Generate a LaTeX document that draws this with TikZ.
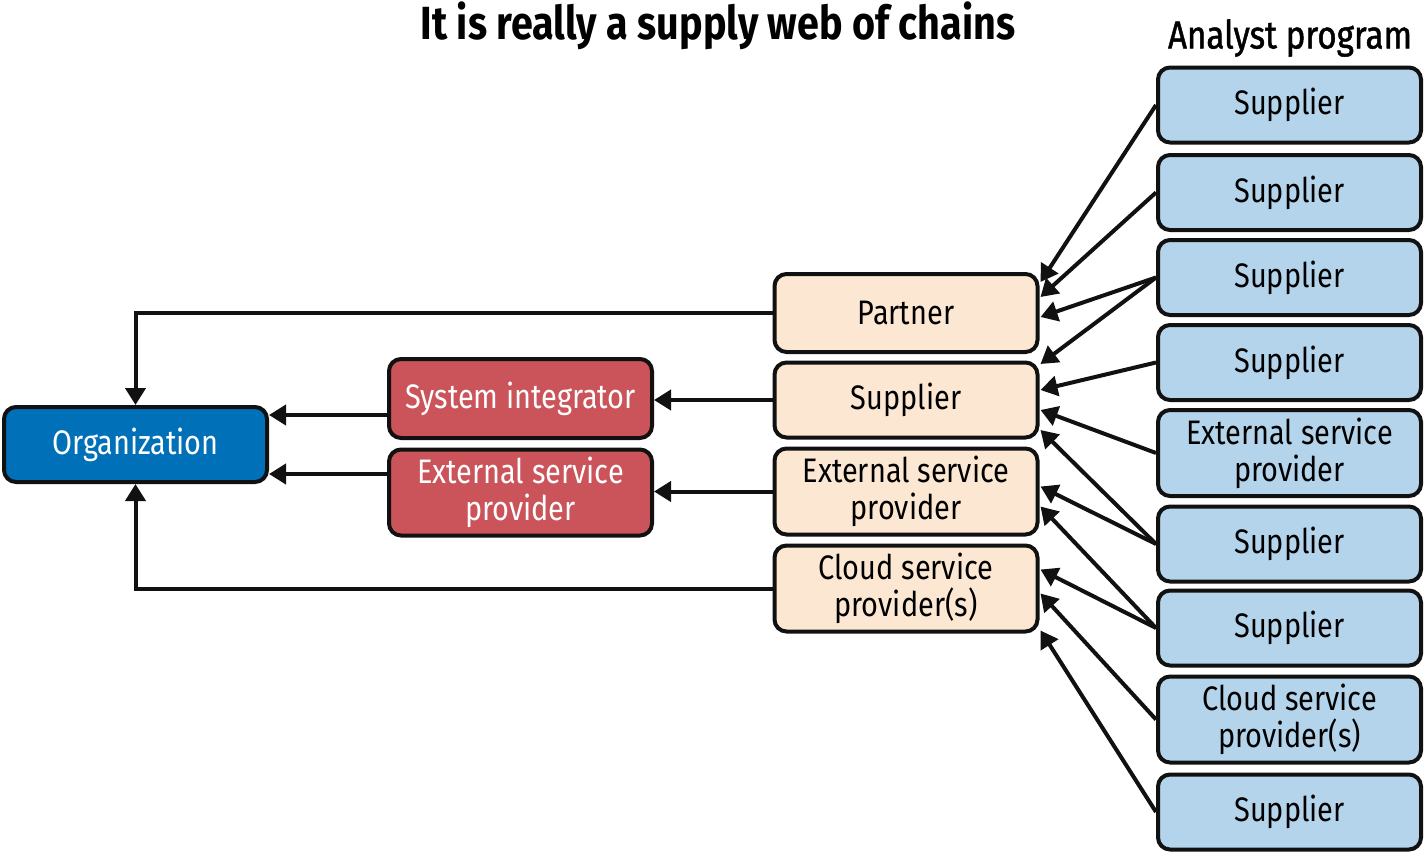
\documentclass[tikz,border=0pt]{standalone}
\usepackage{fontspec}
\setmainfont{Fira Sans}[FakeStretch=0.85]
\newfontfamily\medfont{Fira Sans}[FakeStretch=0.85,FakeBold=1.2]
\usetikzlibrary{arrows.meta,calc}
\definecolor{orgblue}{HTML}{0070B8}
\definecolor{redbox}{HTML}{CB535A}
\definecolor{beige}{HTML}{FCE8D2}
\definecolor{lightblue}{HTML}{B3D4EA}
\definecolor{ink}{HTML}{111111}
\begin{document}
\begin{tikzpicture}[x=1pt,y=-1pt,
  box/.style={draw=ink, line width=4pt, rounded corners=12pt, minimum width=263pt,
    align=center, inner sep=2pt, font=\fontsize{34}{37}\selectfont},
  onebox/.style={box, minimum height=75pt},
  twobox/.style={box, minimum height=86pt},
  rbox/.style={fill=lightblue},
  mbox/.style={fill=beige},
  sbox/.style={fill=redbox, text=white},
  obox/.style={fill=orgblue, text=white},
  arr/.style={draw=ink, line width=4pt, -{Triangle[length=17pt,width=20pt]}},
  ]
\useasboundingbox (0,0) rectangle (1425,854);

\node[font=\fontsize{46.5}{48}\selectfont\bfseries] (title) at (718,26) {It is really a supply web of chains};
\node[font=\fontsize{39}{41}\medfont] (analyst) at (1290,38) {Analyst program};

% right column
\node[onebox,rbox] (r1) at (1289.5,105) {Supplier};
\node[onebox,rbox] (r2) at (1289.5,192.5) {Supplier};
\node[onebox,rbox] (r3) at (1289.5,277.5) {Supplier};
\node[onebox,rbox] (r4) at (1289.5,362.5) {Supplier};
\node[twobox,rbox] (r5) at (1289.5,453) {External service\\provider};
\node[onebox,rbox] (r6) at (1289.5,544) {Supplier};
\node[onebox,rbox] (r7) at (1289.5,628) {Supplier};
\node[twobox,rbox] (r8) at (1289.5,719.5) {Cloud service\\provider(s)};
\node[onebox,rbox] (r9) at (1289.5,812) {Supplier};

% middle column
\node[onebox,mbox,minimum height=78pt] (m1) at (906,313) {Partner};
\node[onebox,mbox] (m2) at (906,400) {Supplier};
\node[twobox,mbox] (m3) at (906,491.5) {External service\\provider};
\node[twobox,mbox] (m4) at (906,588.5) {Cloud service\\provider(s)};

% red column
\node[onebox,sbox,minimum height=79pt] (s1) at (520.5,398.5) {System integrator};
\node[twobox,sbox] (s2) at (520.5,492.5) {External service\\provider};

% organization
\node[onebox,obox] (org) at (135.5,444.5) {Organization};

% left connectors
\draw[arr] (m1.west) -| (org.north);
\draw[arr] (m4.west) -| (org.south);
\draw[arr] (s1.west |- 0,415) coordinate (s1o) -- (s1o -| org.east);
\draw[arr] (s2.west |- 0,474) coordinate (s2o) -- (s2o -| org.east);
\draw[arr] (m2.west) -- (m2.west -| s1.east);
\draw[arr] (m3.west) -- (m3.west -| s2.east);

% right connectors
\draw[arr] (r1.west) -- ($(m1.east)+(1,-31)$);
\draw[arr] (r2.west) -- ($(m1.east)+(1,-16)$);
\draw[arr] (r3.west) -- ($(m1.east)+(1,4)$);
\draw[arr] (r3.west) -- ($(m2.east)+(1,-36)$);
\draw[arr] (r4.west) -- ($(m2.east)+(1,-10)$);
\draw[arr] (r5.west) -- ($(m2.east)+(1,10)$);
\draw[arr] (r6.west) -- ($(m2.east)+(1,30)$);
\draw[arr] (r6.west) -- ($(m3.east)+(1,-5)$);
\draw[arr] (r7.west) -- ($(m3.east)+(1,15)$);
\draw[arr] (r7.west) -- ($(m4.east)+(1,-19)$);
\draw[arr] (r8.west) -- ($(m4.east)+(1,5)$);
\draw[arr] (r9.west) -- ($(m4.east)+(1,42)$);
\end{tikzpicture}
\end{document}
